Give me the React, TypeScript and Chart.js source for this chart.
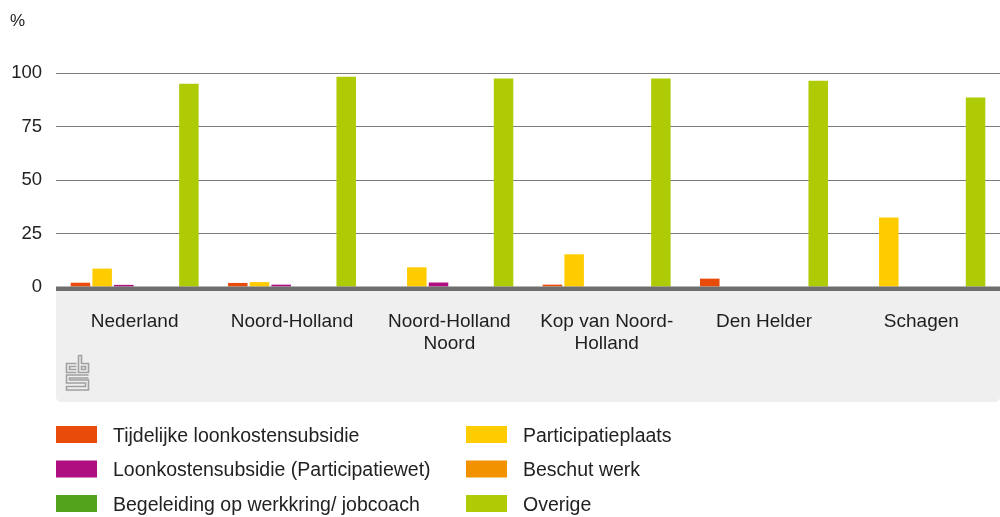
import React, { useEffect, useRef } from "react";
import { Chart, registerables } from "chart.js";

Chart.register(...registerables);

// ---- Data ----
const categories: string[][] = [
  ["Nederland"],
  ["Noord-Holland"],
  ["Noord-Holland", "Noord"],
  ["Kop van Noord-", "Holland"],
  ["Den Helder"],
  ["Schagen"],
];

const seriesNames = [
  "Tijdelijke loonkostensubsidie",
  "Participatieplaats",
  "Loonkostensubsidie (Participatiewet)",
  "Beschut werk",
  "Begeleiding op werkkring/ jobcoach",
  "Overige",
];

const seriesColors = ["#e94c0a", "#ffcc00", "#af0e80", "#f39200", "#53a31d", "#afcb05"];

const tijdelijke = [2.0, 1.9, null, 1.1, 3.9, null];
const participatieplaats = [8.6, 2.3, 9.2, 15.3, null, 32.5];
const loonkosten = [1.0, 1.1, 2.1, null, null, null];
const beschutWerk = [null, null, null, null, null, null];
const begeleiding = [null, null, null, null, null, null];
const overige = [95.0, 98.3, 97.4, 97.4, 96.4, 88.5];

const yMin = 0;
const yMax = 100;
const yStep = 25;
const yUnit = "%";

const FONT = "'Liberation Sans', Arial, sans-serif";

const decorPlugin = {
  id: "decor",
  beforeDraw(chart: any) {
    const ctx = chart.ctx;
    const { left, right, bottom } = chart.chartArea;
    ctx.save();
    ctx.fillStyle = "#efefef";
    ctx.beginPath();
    (ctx as any).roundRect(left, bottom + 2, right - left, 113, [0, 0, 5, 5]);
    ctx.fill();
    // unit label
    ctx.fillStyle = "#222";
    ctx.font = `17px ${FONT}`;
    ctx.textBaseline = "alphabetic";
    ctx.textAlign = "left";
    ctx.fillText(yUnit, 10, 26);
    // logo
    ctx.strokeStyle = "#a0a0a0";
    ctx.lineWidth = 1.6;
    const ox = 66.5, oy = 355.5;
    const path = (pts: number[][]) => {
      ctx.beginPath();
      ctx.moveTo(ox + pts[0][0], oy + pts[0][1]);
      for (let i = 1; i < pts.length; i++) ctx.lineTo(ox + pts[i][0], oy + pts[i][1]);
      ctx.stroke();
    };
    // c
    path([[10, 8], [0, 8], [0, 17], [10, 17]]);
    path([[10, 11], [3, 11], [3, 14], [10, 14]]);
    // b
    path([[12, 0], [12, 17], [22, 17], [22, 8], [15, 8], [15, 0], [12, 0]]);
    ctx.strokeRect(ox + 15, oy + 11, 4, 3);
    // s
    path([[22, 19.5], [0, 19.5], [0, 27.5], [19, 27.5], [19, 31], [0, 31], [0, 34.5], [22, 34.5], [22, 24.5], [3, 24.5], [3, 22.5], [22, 22.5]]);
    ctx.restore();
  },
  afterDatasetsDraw(chart: any) {
    const ctx = chart.ctx;
    const { left, right, bottom } = chart.chartArea;
    ctx.save();
    ctx.fillStyle = "#6e6e6e";
    ctx.fillRect(left, bottom - 0.5, right - left, 4.5);
    ctx.restore();
  },
  afterDraw(chart: any) {
    const ctx = chart.ctx;
    ctx.save();
    ctx.font = `19.5px ${FONT}`;
    ctx.textAlign = "left";
    ctx.textBaseline = "alphabetic";
    chart.data.datasets.forEach((ds: any, i: number) => {
      const col = i % 2;
      const row = Math.floor(i / 2);
      const sx = col === 0 ? 56 : 466;
      const sy = 426 + row * 34.5;
      ctx.fillStyle = ds.backgroundColor;
      ctx.fillRect(sx, sy, 41, 17);
      ctx.fillStyle = "#222";
      ctx.fillText(ds.label, sx + 57, sy + 15.5);
    });
    ctx.restore();
  },
};

export default function App() {
  const canvasRef = useRef<HTMLCanvasElement | null>(null);

  useEffect(() => {
    const canvas = canvasRef.current;
    if (!canvas) return;
    const values = [tijdelijke, participatieplaats, loonkosten, beschutWerk, begeleiding, overige];
    const chart = new Chart(canvas, {
      type: "bar",
      data: {
        labels: categories,
        datasets: seriesNames.map((name, i) => ({
          label: name,
          data: values[i],
          backgroundColor: seriesColors[i],
          borderWidth: 0,
          categoryPercentage: 0.827,
          barPercentage: 0.9,
        })),
      },
      options: {
        responsive: false,
        animation: false,
        devicePixelRatio: 1,
        layout: { padding: { top: 73, left: 0, right: 0, bottom: 0 } },
        plugins: {
          legend: { display: false },
          tooltip: { enabled: false },
        },
        scales: {
          x: {
            grid: { display: false },
            border: { display: false },
            ticks: {
              color: "#1e1e1e",
              font: { family: FONT, size: 19, lineHeight: 1.15 },
              padding: 16,
              maxRotation: 0,
              autoSkip: false,
            },
            afterFit(scale: any) {
              scale.height = 230;
            },
          },
          y: {
            min: yMin,
            max: yMax,
            grid: { color: "#7a7a7a", drawTicks: false, lineWidth: 1 },
            border: { display: false },
            ticks: {
              stepSize: yStep,
              color: "#222",
              font: { family: FONT, size: 18.5 },
              padding: 14,
            },
            afterFit(scale: any) {
              scale.width = 56;
            },
          },
        },
      },
      plugins: [decorPlugin],
    });
    return () => chart.destroy();
  }, []);

  return (
    <div style={{ position: "absolute", left: 0, top: 0, width: 1000, height: 517, background: "#fff" }}>
      <canvas ref={canvasRef} width={1000} height={517} style={{ display: "block", width: 1000, height: 517 }} />
    </div>
  );
}
